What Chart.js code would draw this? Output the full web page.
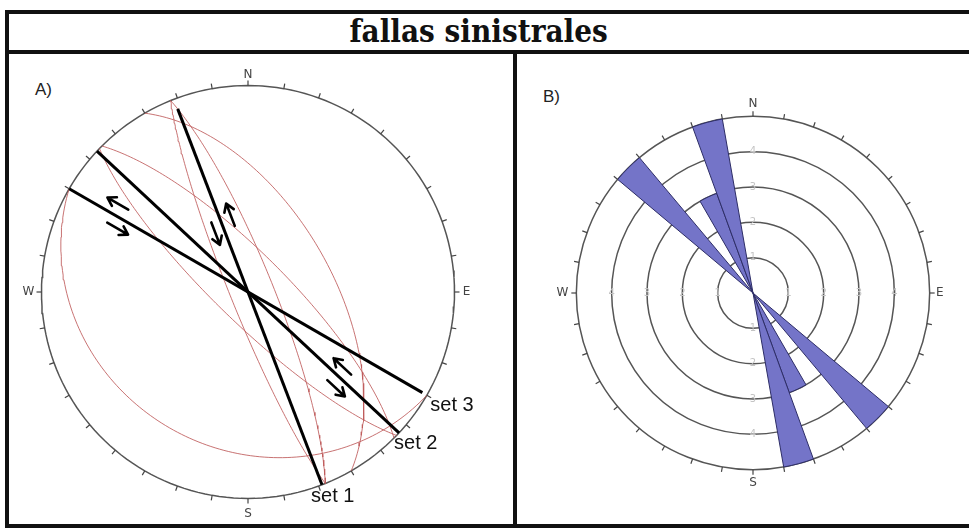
<!DOCTYPE html>
<html>
<head>
<meta charset="utf-8">
<script src="https://cdn.jsdelivr.net/npm/chart.js@4.4.0/dist/chart.umd.min.js"></script>
<style>
  body { margin: 0; width: 969px; height: 531px; background: #fff; position: relative; overflow: hidden;
         font-family: "Liberation Sans", Arial, sans-serif; }
  .bar { position: absolute; background: #111; }
  #title { position: absolute; left: 0; top: 13px; width: 958px; height: 36px; line-height: 36px;
           text-align: center; color: #111; }
  #title span { display: inline-block; font-family: "DejaVu Serif", serif; font-weight: bold; font-size: 32px;
                transform-origin: center; }
  .tag { position: absolute; font-size: 17px; color: #222; }
  canvas { position: absolute; }
</style>
</head>
<body>
<div class="bar" style="left:5px;top:10px;width:964px;height:4px"></div>
<div class="bar" style="left:5px;top:50px;width:964px;height:4px"></div>
<div class="bar" style="left:5px;top:524px;width:964px;height:4px"></div>
<div class="bar" style="left:5px;top:10px;width:4px;height:518px"></div>
<div class="bar" style="left:513px;top:50px;width:4px;height:478px"></div>
<div id="title"><span id="titleText">fallas sinistrales</span></div>
<div class="tag" style="left:35px;top:80px">A)</div>
<div class="tag" style="left:543px;top:87px">B)</div>
<canvas id="stereo" width="470" height="470" style="left:13px;top:57px"></canvas>
<canvas id="rose" width="424" height="424" style="left:541px;top:81px"></canvas>
<script>
// fault planes (great circles, right-hand rule strike / dip)
const faultStrike = [120, 330, 158, 338, 134, 315];
const faultDip = [25, 57, 83, 80, 78, 75];

// strike traces of the three sets (azimuth of NW end)
const setNames = ["set 1", "set 2", "set 3"];
const setTrend = [339, 313, 300];
const setReachNW = [0.95, 1.0, 1.0];
const setReachSE = [1.0, 1.0, 0.975];

// rose diagram: 10 degree bins
const roseBins = [];
for (let a = 0; a < 360; a += 10) roseBins.push(a + "-" + (a + 10));
const roseCounts = [0,0,0,0,0,0,0,0,0,0, 0,0,0,5,0,3,5,0,0,0, 0,0,0,0,0,0,0,0,0,0, 0,5,0,3,5,0];
const ringTicks = [1, 2, 3, 4];

// sinistral half arrows: set, distance along trace, side offset, direction (+1 = to NW end)
const shearArrows = [
  { set: 0, s: 0.32, off: -0.045, dir: -1 },
  { set: 0, s: 0.38, off: 0.055, dir: 1 },
  { set: 1, s: -0.58, off: 0.048, dir: 1 },
  { set: 1, s: -0.63, off: -0.05, dir: -1 },
  { set: 2, s: 0.76, off: 0.056, dir: 1 },
  { set: 2, s: 0.70, off: -0.05, dir: -1 }
];

// squeeze the title to the width it has in the figure
const tt = document.getElementById("titleText");
tt.style.transform = "scaleX(" + (258 / tt.offsetWidth).toFixed(3) + ")";

const rad = d => d * Math.PI / 180;

// lower hemisphere, equal-area projection of a plane
function greatCircle(strike, dip) {
  const s = rad(strike), d = rad(dip), dd = s + Math.PI / 2;
  const pts = [];
  for (let i = 0; i <= 120; i++) {
    const t = i * Math.PI / 120;
    const e = Math.cos(t) * Math.sin(s) + Math.sin(t) * Math.sin(dd) * Math.cos(d);
    const n = Math.cos(t) * Math.cos(s) + Math.sin(t) * Math.cos(dd) * Math.cos(d);
    const down = Math.sin(t) * Math.sin(d);
    const plunge = Math.asin(Math.min(1, down));
    const r = Math.SQRT2 * Math.sin((Math.PI / 2 - plunge) / 2);
    const h = Math.hypot(e, n) || 1;
    pts.push({ x: r * e / h, y: r * n / h });
  }
  return pts;
}

const rim = [];
for (let a = 0; a <= 360; a += 2) rim.push({ x: Math.sin(rad(a)), y: Math.cos(rad(a)) });

const datasets = [];
setTrend.forEach((az, i) => {
  datasets.push({
    label: setNames[i],
    data: [
      { x: Math.sin(rad(az)) * setReachNW[i], y: Math.cos(rad(az)) * setReachNW[i] },
      { x: -Math.sin(rad(az)) * setReachSE[i], y: -Math.cos(rad(az)) * setReachSE[i] }
    ],
    borderColor: "#000", borderWidth: 3
  });
});
faultStrike.forEach((st, i) => {
  datasets.push({ label: "plane " + (i + 1), data: greatCircle(st, faultDip[i]),
                  borderColor: "rgba(190,90,90,0.85)", borderWidth: 1 });
});
datasets.push({ label: "primitive", data: rim, borderColor: "#555", borderWidth: 1.5 });
datasets.forEach(d => { d.showLine = true; d.pointRadius = 0; d.fill = false; d.tension = 0; });

function drawCompass(ctx, cx, cy, R, gap) {
  ctx.save();
  ctx.strokeStyle = "#444";
  ctx.lineWidth = 1.2;
  for (let a = 0; a < 360; a += 10) {
    const sx = Math.sin(rad(a)), sy = -Math.cos(rad(a));
    ctx.beginPath();
    ctx.moveTo(cx + sx * R, cy + sy * R);
    ctx.lineTo(cx + sx * (R + 5), cy + sy * (R + 5));
    ctx.stroke();
  }
  ctx.fillStyle = "#444";
  ctx.font = "12px 'DejaVu Sans'";
  ctx.textAlign = "center";
  ctx.textBaseline = "middle";
  ctx.fillText("N", cx, cy - R - gap[0]);
  ctx.fillText("E", cx + R + gap[1], cy);
  ctx.fillText("S", cx, cy + R + gap[2]);
  ctx.fillText("W", cx - R - gap[3], cy);
  ctx.restore();
}

const stereoDecor = {
  id: "stereoDecor",
  afterDatasetsDraw(chart) {
    const { ctx, scales: { x, y } } = chart;
    const cx = x.getPixelForValue(0), cy = y.getPixelForValue(0);
    const R = x.getPixelForValue(1) - cx;
    drawCompass(ctx, cx, cy, R, [11, 12, 15, 13]);

    // half arrows for sinistral sense
    ctx.save();
    ctx.strokeStyle = "#000";
    ctx.lineWidth = 2.6;
    ctx.lineCap = "round";
    ctx.lineJoin = "round";
    shearArrows.forEach(a => {
      const az = rad(setTrend[a.set]);
      const ux = Math.sin(az), uy = -Math.cos(az);
      const nx = -uy, ny = ux;
      const mx = cx + ux * a.s * R + nx * a.off * R;
      const my = cy + uy * a.s * R + ny * a.off * R;
      const L = 12, dx = ux * a.dir, dy = uy * a.dir;
      const hx = mx + dx * L, hy = my + dy * L;
      ctx.beginPath();
      ctx.moveTo(mx - dx * L, my - dy * L);
      ctx.lineTo(hx, hy);
      ctx.moveTo(hx - dx * 8 + dy * 5, hy - dy * 8 - dx * 5);
      ctx.lineTo(hx, hy);
      ctx.lineTo(hx - dx * 8 - dy * 5, hy - dy * 8 + dx * 5);
      ctx.stroke();
    });
    ctx.restore();

    // set labels at the SE ends
    const labelShift = [[-11, 12], [-5, 11], [8, 13]];
    ctx.save();
    ctx.fillStyle = "#111";
    ctx.font = "20px 'Liberation Sans'";
    ctx.textAlign = "left";
    ctx.textBaseline = "middle";
    setTrend.forEach((az, i) => {
      const ex = cx - Math.sin(rad(az)) * setReachSE[i] * R;
      const ey = cy + Math.cos(rad(az)) * setReachSE[i] * R;
      ctx.fillText(setNames[i], ex + labelShift[i][0], ey + labelShift[i][1]);
    });
    ctx.restore();
  }
};

const L = 235 / 206.5;
new Chart(document.getElementById("stereo"), {
  type: "scatter",
  data: { datasets },
  options: {
    responsive: false, animation: false,
    layout: { padding: 0 },
    scales: {
      x: { display: false, min: -L, max: L },
      y: { display: false, min: -L, max: L }
    },
    plugins: { legend: { display: false }, tooltip: { enabled: false } }
  },
  plugins: [stereoDecor]
});

const roseDecor = {
  id: "roseDecor",
  afterDatasetsDraw(chart) {
    const { ctx } = chart;
    const r = chart.scales.r;
    const cx = r.xCenter, cy = r.yCenter;
    const R = r.getDistanceFromCenterForValue(5);
    drawCompass(ctx, cx, cy, R, [12, 10, 13, 14]);
    ctx.save();
    ctx.fillStyle = "#c4c4c4";
    ctx.font = "10px 'DejaVu Sans'";
    ctx.textAlign = "center";
    ctx.textBaseline = "middle";
    ringTicks.forEach(v => {
      const d = r.getDistanceFromCenterForValue(v);
      ctx.fillText(String(v), cx, cy - d);
      ctx.fillText(String(v), cx, cy + d);
      ctx.fillText(String(v), cx + d, cy);
      ctx.fillText(String(v), cx - d, cy);
    });
    ctx.restore();
  }
};

new Chart(document.getElementById("rose"), {
  type: "polarArea",
  data: {
    labels: roseBins,
    datasets: [{
      data: roseCounts,
      backgroundColor: "#7474c8",
      borderColor: "#2d2d66",
      borderWidth: ctx => (ctx.raw > 0 ? 1 : 0)
    }]
  },
  options: {
    responsive: false, animation: false,
    layout: { padding: 0 },
    scales: {
      r: {
        min: 0, max: 6, startAngle: 0,
        ticks: { display: false, stepSize: 1 },
        grid: { circular: true, lineWidth: 1.5,
                color: ctx => (ctx.tick && ctx.tick.value > 5 ? "rgba(0,0,0,0)" : "#555") },
        angleLines: { display: false },
        pointLabels: { display: false }
      }
    },
    plugins: { legend: { display: false }, tooltip: { enabled: false } }
  },
  plugins: [roseDecor]
});
</script>
</body>
</html>
